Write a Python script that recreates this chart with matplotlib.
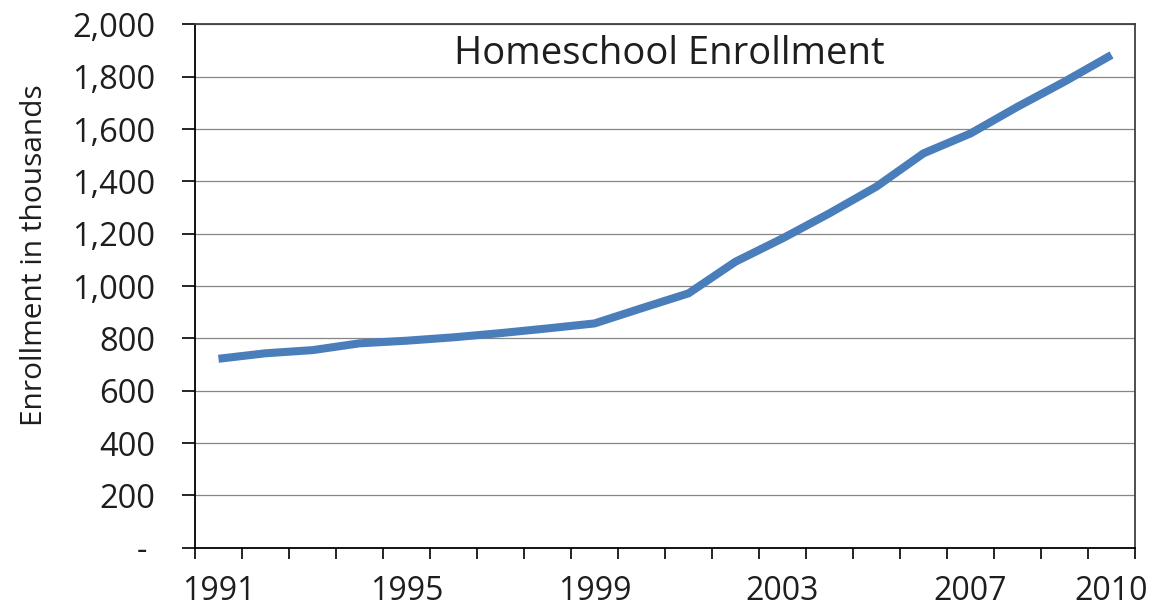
import matplotlib.pyplot as plt
from matplotlib.ticker import FuncFormatter

# Homeschool enrollment, thousands of students per year
years = list(range(1991, 2011))
enrollment = [722, 743, 755, 781, 791, 804, 820, 838, 857, 915,
              972, 1093, 1182, 1278, 1380, 1507, 1583, 1685, 1781, 1883]
year_labels = [1991, 1995, 1999, 2003, 2007, 2010]
y_ticks = list(range(0, 2001, 200))

plt.rcParams['font.family'] = ['Open Sans', 'DejaVu Sans']
text_color = '#1e1e1e'

fig = plt.figure(figsize=(11.53, 6.13), dpi=100)
ax = fig.add_axes([0.1691, 0.1065, 0.8153, 0.8538])

ax.plot(years, enrollment, color='#4A7EBB', lw=5.8,
        solid_capstyle='butt', solid_joinstyle='round', zorder=3)

ax.set_xlim(years[0] - 0.5, years[-1] + 0.5)
ax.set_ylim(0, 2000)

# y axis: comma thousands, accounting-style dash for zero
ax.set_yticks(y_ticks)
ax.yaxis.set_major_formatter(
    FuncFormatter(lambda v, p: '- ' if v == 0 else f'{int(v):,}'))
ax.yaxis.grid(True, color='#868686', lw=0.9, zorder=1)
ax.tick_params(axis='y', length=9.5, width=1.2, pad=19, labelsize=23.5,
               labelcolor=text_color)

# x axis: tick marks between categories, labels every few years
boundaries = [y - 0.5 for y in years] + [years[-1] + 0.5]
ax.set_xticks(boundaries)
ax.set_xticklabels([])
ax.set_xticks(year_labels, minor=True)
ax.set_xticklabels([str(y) for y in year_labels], minor=True)
ax.tick_params(axis='x', which='major', length=8, width=1.2)
ax.tick_params(axis='x', which='minor', length=0, pad=20, labelsize=23,
               labelcolor=text_color)

for side in ['left', 'bottom']:
    ax.spines[side].set_color('black')
    ax.spines[side].set_linewidth(1.3)
for side in ['top', 'right']:
    ax.spines[side].set_color('#404040')
    ax.spines[side].set_linewidth(1.3)

ax.text(0.505, 0.943, 'Homeschool Enrollment', transform=ax.transAxes,
        ha='center', va='center', fontsize=27.5, color=text_color)
fig.text(35 / 1153, 1 - 255 / 613, 'Enrollment in thousands', rotation=90,
         ha='center', va='center', fontsize=21.5, color=text_color)

fig.savefig('out.png', dpi=100)
